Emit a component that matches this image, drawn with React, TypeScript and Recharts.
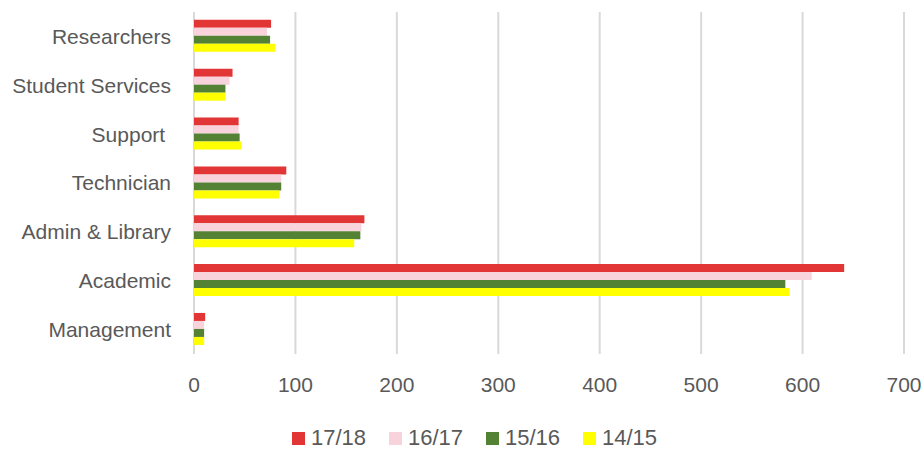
import React from 'react';
import { BarChart, Bar, XAxis, YAxis, CartesianGrid, Legend } from 'recharts';

// categories top to bottom
const categories = ['Researchers', 'Student Services', 'Support\u00a0', 'Technician', 'Admin & Library', 'Academic', 'Management'];

const y1718 = [76, 38, 44, 91, 168, 641, 11];
const y1617 = [72, 35, 44, 86, 165, 609, 10];
const y1516 = [75, 31, 45, 86, 164, 583, 10];
const y1415 = [80, 31, 47, 84, 158, 587, 10];

const xTicks = [0, 100, 200, 300, 400, 500, 600, 700];

const series = [
  { key: 's1718', name: '17/18', color: '#E23535' },
  { key: 's1617', name: '16/17', color: '#F9D3DC' },
  { key: 's1516', name: '15/16', color: '#548235' },
  { key: 's1415', name: '14/15', color: '#FFFF00' },
];

const data = categories.map((name, i) => ({
  name,
  s1718: y1718[i],
  s1617: y1617[i],
  s1516: y1516[i],
  s1415: y1415[i],
}));

const FONT = '"Liberation Sans", Arial, sans-serif';
const TEXT = '#595959';

const renderLegend = () => (
  <div
    style={{
      height: 60,
      boxSizing: 'border-box',
      display: 'flex',
      justifyContent: 'flex-start',
      alignItems: 'flex-start',
      paddingLeft: 292,
      paddingTop: 36,
      fontFamily: FONT,
      fontSize: 22,
      color: TEXT,
    }}
  >
    {series.map((s) => (
      <div key={s.key} style={{ display: 'flex', alignItems: 'center', width: 97, height: 24 }}>
        <span style={{ width: 13, height: 13, background: s.color, display: 'inline-block', marginRight: 6 }} />
        <span style={{ lineHeight: '24px' }}>{s.name}</span>
      </div>
    ))}
  </div>
);

const App: React.FC = () => {
  return (
    <div>
      <style>{'body{margin:0;overflow:hidden}.recharts-wrapper,.recharts-surface{overflow:visible}'}</style>
      <BarChart
        width={924}
        height={450}
        data={data}
        layout="vertical"
        margin={{ top: 12, right: 20, left: 0, bottom: 0 }}
        barCategoryGap="16%"
        barGap={0}
      >
        <CartesianGrid horizontal={false} stroke="#D9D9D9" strokeWidth={2} />
        <XAxis
          type="number"
          domain={[0, 700]}
          ticks={xTicks}
          axisLine={false}
          tickLine={false}
          tickSize={0}
          tickMargin={23}
          height={36}
          tick={{ fill: TEXT, fontSize: 21, fontFamily: FONT }}
        />
        <YAxis
          type="category"
          dataKey="name"
          width={194}
          axisLine={false}
          tickLine={false}
          tickSize={0}
          tickMargin={23}
          tick={{ fill: TEXT, fontSize: 21, fontFamily: FONT }}
        />
        <Legend verticalAlign="bottom" content={renderLegend} />
        {series.map((s) => (
          <Bar key={s.key} dataKey={s.key} name={s.name} fill={s.color} isAnimationActive={false} />
        ))}
      </BarChart>
    </div>
  );
};

export default App;
